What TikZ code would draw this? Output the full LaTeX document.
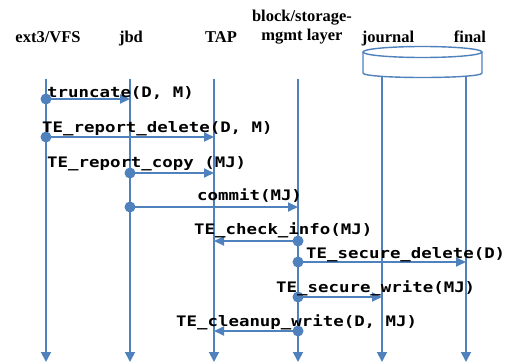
\documentclass[tikz,border=0pt]{standalone}
\usepackage{fontspec}
\setmainfont{Liberation Serif}
\newfontfamily\callfont[FakeStretch=1.2]{DejaVu Sans Mono}
\usetikzlibrary{arrows.meta}
\definecolor{lineblue}{HTML}{4F81BD}

\begin{document}
\begin{tikzpicture}[x=1pt, y=-1pt,
  life/.style={lineblue, line width=1.8pt, -{Triangle[length=10pt,width=10pt]}},
  call/.style={lineblue, line width=1.8pt, -{Triangle[length=10pt,width=9pt]}},
  src/.style={circle, fill=lineblue, inner sep=0pt, minimum size=11pt},
  head/.style={font=\fontsize{16.5}{19}\selectfont\bfseries, align=center, inner sep=0pt},
  lbl/.style={font=\fontsize{14.5}{15}\callfont\bfseries, anchor=base west, inner sep=0pt}]
  \useasboundingbox (0,0) rectangle (509,364);

  % column heads
  \node[head, anchor=base] (vfs) at (48,42) {ext3/VFS};
  \node[head, anchor=base] (jbd) at (131,42) {jbd};
  \node[head, anchor=base] (tap) at (221,42) {TAP};
  \node[head, anchor=south] (blk) at (302,44) {block/storage-\\mgmt layer};
  \node[head, anchor=base] (jnl) at (388,42) {journal};
  \node[head, anchor=base] (fin) at (470,42) {final};

  % storage drum over journal/final
  \draw[lineblue, line width=1.4pt, fill=white] (363,52) -- (363,73)
    .. controls (363,79) and (482,79) .. (482,73) -- (482,52);
  \draw[lineblue, line width=1.4pt, fill=white] (422.5,52) ellipse (59.5 and 5.5);

  % life lines
  \foreach \n/\x/\t in {vfs/46/79, jbd/130/79, tap/214/79, blk/298/79, jnl/382/77, fin/466/77} {
    \coordinate (\n top) at (\x,\t);
    \coordinate (\n end) at (\x,362);
    \draw[life] (\n top) -- (\n end);
  }

  % calls, dot at the caller
  \foreach \from/\to/\y [count=\i] in {vfs/jbd/99, vfs/tap/137, jbd/tap/173, jbd/blk/207,
      blk/tap/241, blk/fin/262, blk/jnl/297, blk/tap/331}
    \draw[call] (\from top |- 0,\y) node[src] (d\i) {} -- (\to top |- 0,\y);

  \node[lbl] (m1) at (47,97) {truncate(D, M)};
  \node[lbl] (m2) at (42,132) {TE\_report\_delete(D, M)};
  \node[lbl] (m3) at (47,167) {TE\_report\_copy (MJ)};
  \node[lbl] (m4) at (197,200) {commit(MJ)};
  \node[lbl] (m5) at (194,234) {TE\_check\_info(MJ)};
  \node[lbl] (m6) at (306,258) {TE\_secure\_delete(D)};
  \node[lbl] (m7) at (276,292) {TE\_secure\_write(MJ)};
  \node[lbl] (m8) at (176,326) {TE\_cleanup\_write(D, MJ)};
\end{tikzpicture}
\end{document}
